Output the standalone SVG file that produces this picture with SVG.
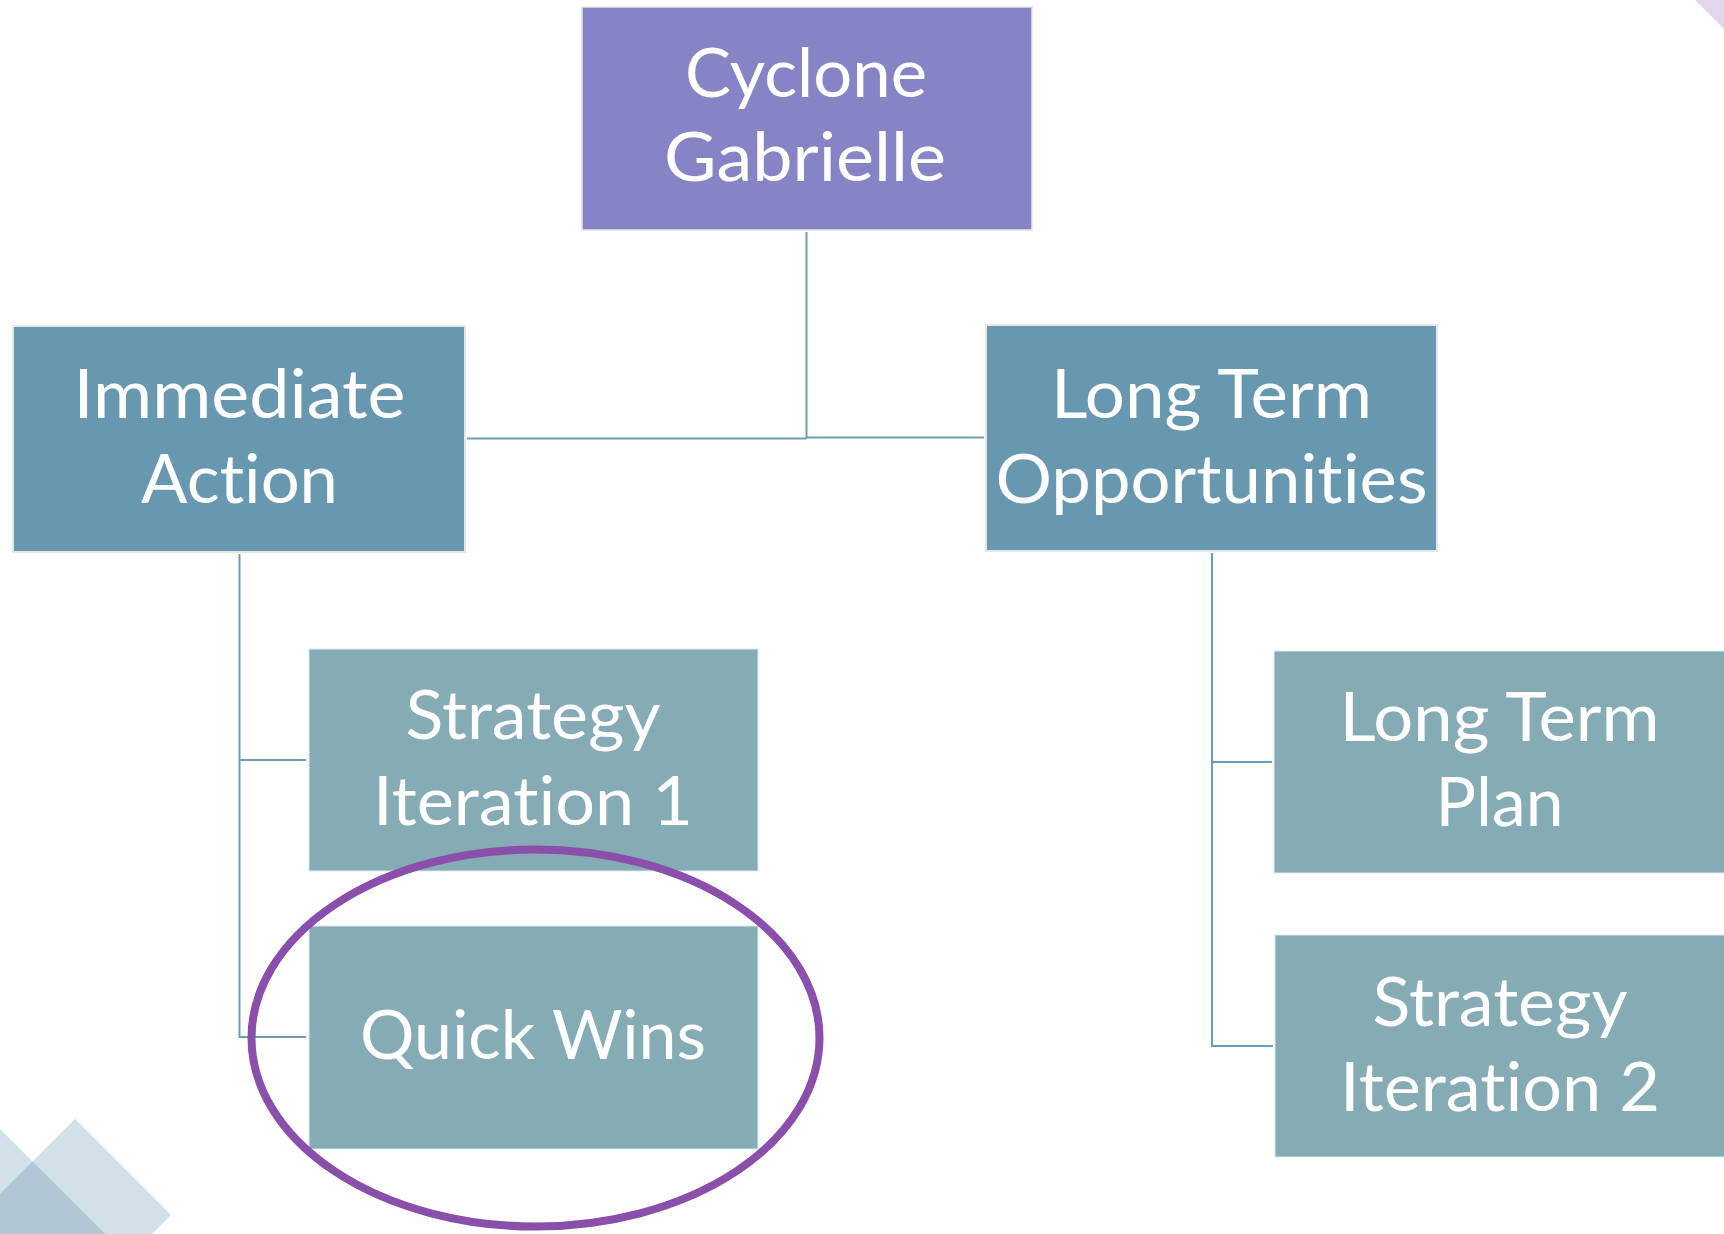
<svg xmlns="http://www.w3.org/2000/svg" width="1724" height="1234" viewBox="0 0 1724 1234">
<style>
.lbl{font-family:Lato,"Open Sans","Noto Sans",sans-serif;font-size:67px;fill:#ffffff;text-anchor:middle;font-variant-ligatures:none;font-feature-settings:"liga" 0,"dlig" 0}
.l1{fill:#8784C6;stroke:#E4E4EC;stroke-width:1.5}
.l2{fill:#6897B0;stroke:#E6E6E6;stroke-width:2}
.l3{fill:#85ABB5;stroke:#DDE8EB;stroke-width:1}
.con{fill:none;stroke:#6D9DB0;stroke-width:2}
.deco{fill:#47809D;fill-opacity:0.244}
</style>
<g id="background">
<polygon class="deco" points="75,1119 171,1215 152,1234 0,1234 0,1194"/>
<polygon class="deco" points="0,1129 105,1234 0,1234"/>
<polygon points="1695,0 1724,0 1724,29" fill="#E3D6EF"/>
</g>
<g id="connectors">
<path class="con" d="M806.5 232 V438"/>
<path class="con" d="M467 438.5 H806.5 M806.5 437.5 H984"/>
<path class="con" d="M239.5 554 V1037 M239.5 760 H306 M238.5 1037 H306"/>
<path class="con" d="M1212 553 V1046 M1212 762 H1272 M1211 1046 H1273"/>
</g>
<g id="node-cyclone">
<rect class="l1" x="582" y="7" width="450" height="223"/>
<text class="lbl" x="806" y="97" textLength="242" lengthAdjust="spacingAndGlyphs">Cyclone</text>
<text class="lbl" x="805" y="181" textLength="282" lengthAdjust="spacingAndGlyphs">Gabrielle</text>
</g>
<g id="node-immediate">
<rect class="l2" x="13" y="326" width="452" height="226"/>
<text class="lbl" x="239.5" y="418" textLength="332" lengthAdjust="spacingAndGlyphs">Immediate</text>
<text class="lbl" x="239.5" y="503" textLength="197" lengthAdjust="spacingAndGlyphs">Action</text>
</g>
<g id="node-longterm-opps">
<rect class="l2" x="986" y="325" width="451" height="226"/>
<text class="lbl" x="1211.5" y="418" textLength="321" lengthAdjust="spacingAndGlyphs">Long Term</text>
<text class="lbl" x="1211.5" y="503" textLength="432" lengthAdjust="spacingAndGlyphs">Opportunities</text>
</g>
<g id="node-strategy1">
<rect class="l3" x="309" y="649" width="449" height="222"/>
<text class="lbl" x="533" y="739" textLength="255" lengthAdjust="spacingAndGlyphs">Strategy</text>
<text class="lbl" x="533" y="825" textLength="320" lengthAdjust="spacingAndGlyphs">Iteration 1</text>
</g>
<g id="node-quickwins">
<rect class="l3" x="309" y="926" width="449" height="223"/>
<text class="lbl" x="533" y="1059" textLength="346" lengthAdjust="spacingAndGlyphs">Quick Wins</text>
</g>
<g id="node-longterm-plan">
<rect class="l3" x="1274" y="651" width="451" height="222"/>
<text class="lbl" x="1499.5" y="741" textLength="320" lengthAdjust="spacingAndGlyphs">Long Term</text>
<text class="lbl" x="1499.5" y="826" textLength="128" lengthAdjust="spacingAndGlyphs">Plan</text>
</g>
<g id="node-strategy2">
<rect class="l3" x="1275" y="935" width="450" height="222"/>
<text class="lbl" x="1500" y="1026" textLength="255" lengthAdjust="spacingAndGlyphs">Strategy</text>
<text class="lbl" x="1500" y="1111" textLength="320" lengthAdjust="spacingAndGlyphs">Iteration 2</text>
</g>
<g id="highlight">
<ellipse cx="535.5" cy="1038" rx="284" ry="188.5" fill="none" stroke="#8A4FAA" stroke-width="8"/>
</g>
</svg>
